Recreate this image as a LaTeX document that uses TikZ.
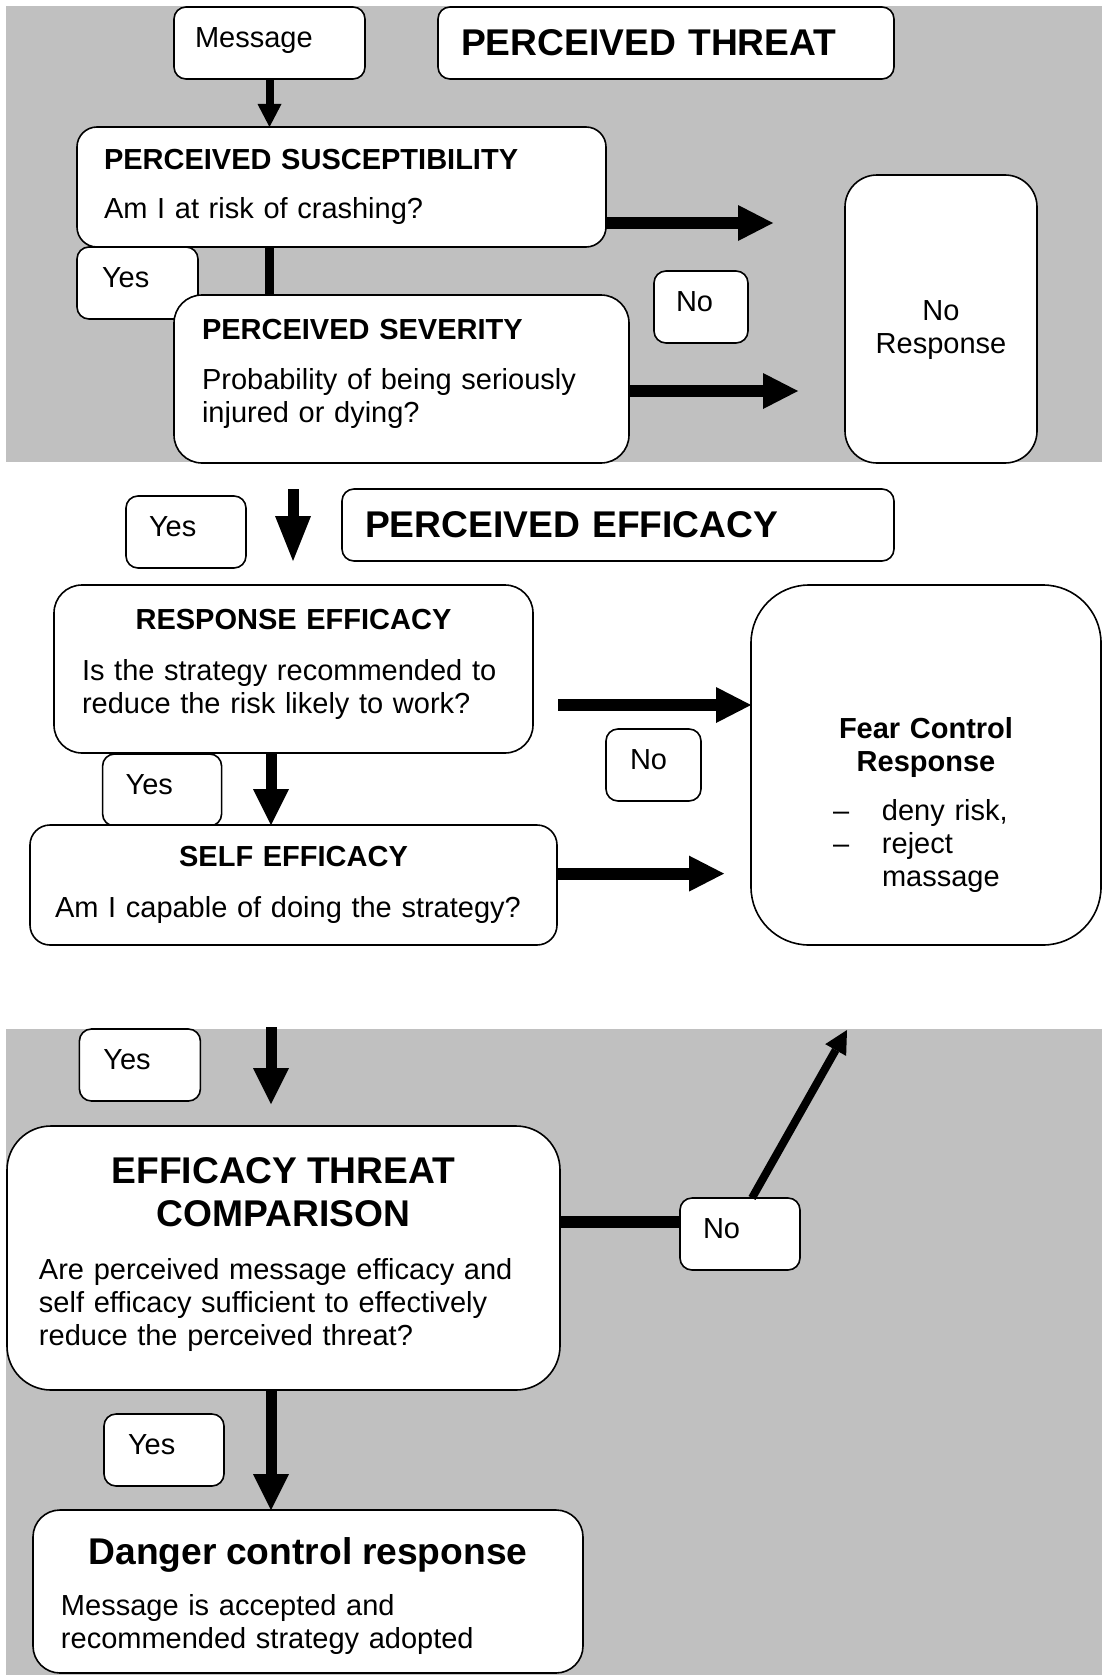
\documentclass[tikz,border=0pt]{standalone}
\usepackage{fontspec}
\setmainfont{Liberation Sans}
\usetikzlibrary{arrows.meta}
\setlength{\parindent}{0pt}
\definecolor{grigio}{RGB}{192,192,192}
\newcommand{\grande}{\fontsize{18.6}{21.5}\selectfont\bfseries}

\begin{document}
\begin{tikzpicture}[
    x=0.5pt,
    y=-0.5pt,
    block/.style={
        rectangle,
        draw=black,
        fill=white,
        line width=0.8pt,
        anchor=north west,
        inner sep=0pt,
        outer sep=0pt,
        font=\fontsize{14.5}{16.5}\selectfont
    },
    smallbox/.style 2 args={
        block,
        rounded corners=6pt,
        minimum width=#1,
        text width=#2,
        text height=20.25pt,
        text depth=15.75pt
    },
    titlebox/.style 2 args={
        block,
        rounded corners=6pt,
        minimum width=#1,
        text width=#2,
        text height=24.2pt,
        text depth=11.8pt,
        font=\grande
    },
    arrow/.style={
        -{Triangle[length=17.5pt, width=18pt, line width=0pt]},
        line width=6pt
    },
    downarrow/.style={
        -{Triangle[length=#1, width=18pt, line width=0pt]},
        line width=5.5pt
    },
    downarrow/.default=18pt,
    thinarrow/.style={
        -{Triangle[length=11.5pt, width=12pt, line width=0pt]},
        line width=4pt
    }
]
\useasboundingbox (0,0) rectangle (1102,1675);

% Sfondi grigi
\fill[grigio] (6,6) rectangle (1102,462);
\fill[grigio] (6,1029) rectangle (1102,1675);

% Blocchi della minaccia
\node[smallbox={95.5pt}{74.5pt}] (msg) at (174,7) {Message};
\node[titlebox={228pt}{205pt}] (threat) at (438,7) {PERCEIVED THREAT};
\node[block, rounded corners=10pt, minimum width=264.5pt, text width=237.5pt,
      text height=21.3pt, text depth=38.7pt] (susc) at (77,127)
    {{\bfseries PERCEIVED SUSCEPTIBILITY\par}\vspace{8pt}Am I at risk of crashing?};
\node[smallbox={60.5pt}{35.5pt}] (yes1) at (77,247) {Yes};
\node[block, rounded corners=14pt, minimum width=227.5pt, text width=199.5pt,
      text height=22.15pt, text depth=61.85pt] (sev) at (174,295)
    {{\bfseries PERCEIVED SEVERITY\par}\vspace{8.8pt}Probability of being seriously\\injured or dying?};
\node[smallbox={47pt}{25pt}] (no1) at (654,271) {No};
\node[block, rounded corners=16pt, minimum width=96pt, text width=80pt,
      text height=72.85pt, text depth=71.15pt] (noresp) at (845,175) {\centering No\\Response\par};

% Blocchi dell'efficacia
\node[smallbox={60pt}{37pt}] (yes2) at (126,496) {Yes};
\node[titlebox={276pt}{253pt}] (efficacy) at (342,489) {PERCEIVED EFFICACY};
\node[block, rounded corners=14pt, minimum width=239.5pt, text width=211.5pt,
      text height=22pt, text depth=62pt] (resp) at (54,585)
    {{\centering\bfseries RESPONSE EFFICACY\par}\vspace{9pt}Is the strategy recommended to\\reduce the risk likely to work?};
\node[block, rounded corners=29pt, minimum width=175pt, text width=93pt,
      text height=76.5pt, text depth=103.5pt] (fear) at (751,585)
    {{\centering\bfseries Fear Control\\Response\par}\vspace{8pt}\makebox[24.5pt][l]{--}deny risk,\\\makebox[24.5pt][l]{--}reject\\\hspace*{24.5pt}massage};
\node[smallbox={47.5pt}{23.5pt}] (no2) at (606,729) {No};
\node[smallbox={59.5pt}{36.5pt}] (yes3) at (102.6,754) {Yes};
\node[block, rounded corners=10pt, minimum width=263.5pt, text width=238.5pt,
      text height=20.8pt, text depth=39.2pt] (self) at (30,825)
    {{\centering\bfseries SELF EFFICACY\par}\vspace{9pt}Am I capable of doing the strategy?};

% Blocchi del confronto
\node[smallbox={60.5pt}{36.5pt}] (yes4) at (79.4,1029) {Yes};
\node[block, rounded corners=22pt, minimum width=276.5pt, text width=244.5pt,
      text height=28.65pt, text depth=103.35pt] (comp) at (7,1126)
    {{\grande\centering EFFICACY THREAT\\COMPARISON\par}\vspace{10pt}Are perceived message efficacy and\\self efficacy sufficient to effectively\\reduce the perceived threat?};
\node[smallbox={60pt}{37pt}] (no3) at (680,1198) {No};
\node[smallbox={60pt}{36pt}] (yes5) at (104,1414) {Yes};
\node[block, rounded corners=13.5pt, minimum width=275pt, text width=247pt,
      text height=27pt, text depth=54.5pt] (danger) at (33,1510)
    {{\grande\centering Danger control response\par}\vspace{9.3pt}Message is accepted and\\recommended strategy adopted};

% Frecce
\coordinate (asse) at (271,0);
\coordinate (t1) at (773,223);
\coordinate (t2) at (798,391);
\coordinate (e1) at (293,489);
\coordinate (e2) at (293,561);
\coordinate (f1) at (558,705);
\coordinate (h1) at (724,873.6);
\coordinate (i1) at (271,1027);
\coordinate (i2) at (271,1104);
\coordinate (j1) at (0,1221.5);
\coordinate (k1) at (847,1030);

\draw[thinarrow] (msg.south) -- (msg.south |- susc.north);
\draw[arrow] (susc.east |- t1) -- (t1);
\draw[line width=4.5pt] (msg.south |- susc.south) -- (msg.south |- sev.north);
\draw[arrow] (sev.east |- t2) -- (t2);
\draw[downarrow=22.5pt] (e1) -- (e2);
\draw[arrow] (f1) -- (fear.west |- f1);
\draw[downarrow] (resp.south -| asse) -- (self.north -| asse);
\draw[arrow] (self.east |- h1) -- (h1);
\draw[downarrow] (i1) -- (i2);
\draw[line width=6pt] (comp.east |- j1) -- (no3.west |- j1);
\draw[thinarrow] ([xshift=6pt]no3.north) -- (k1);
\draw[downarrow] (comp.south -| asse) -- (danger.north -| asse);

\end{tikzpicture}
\end{document}
